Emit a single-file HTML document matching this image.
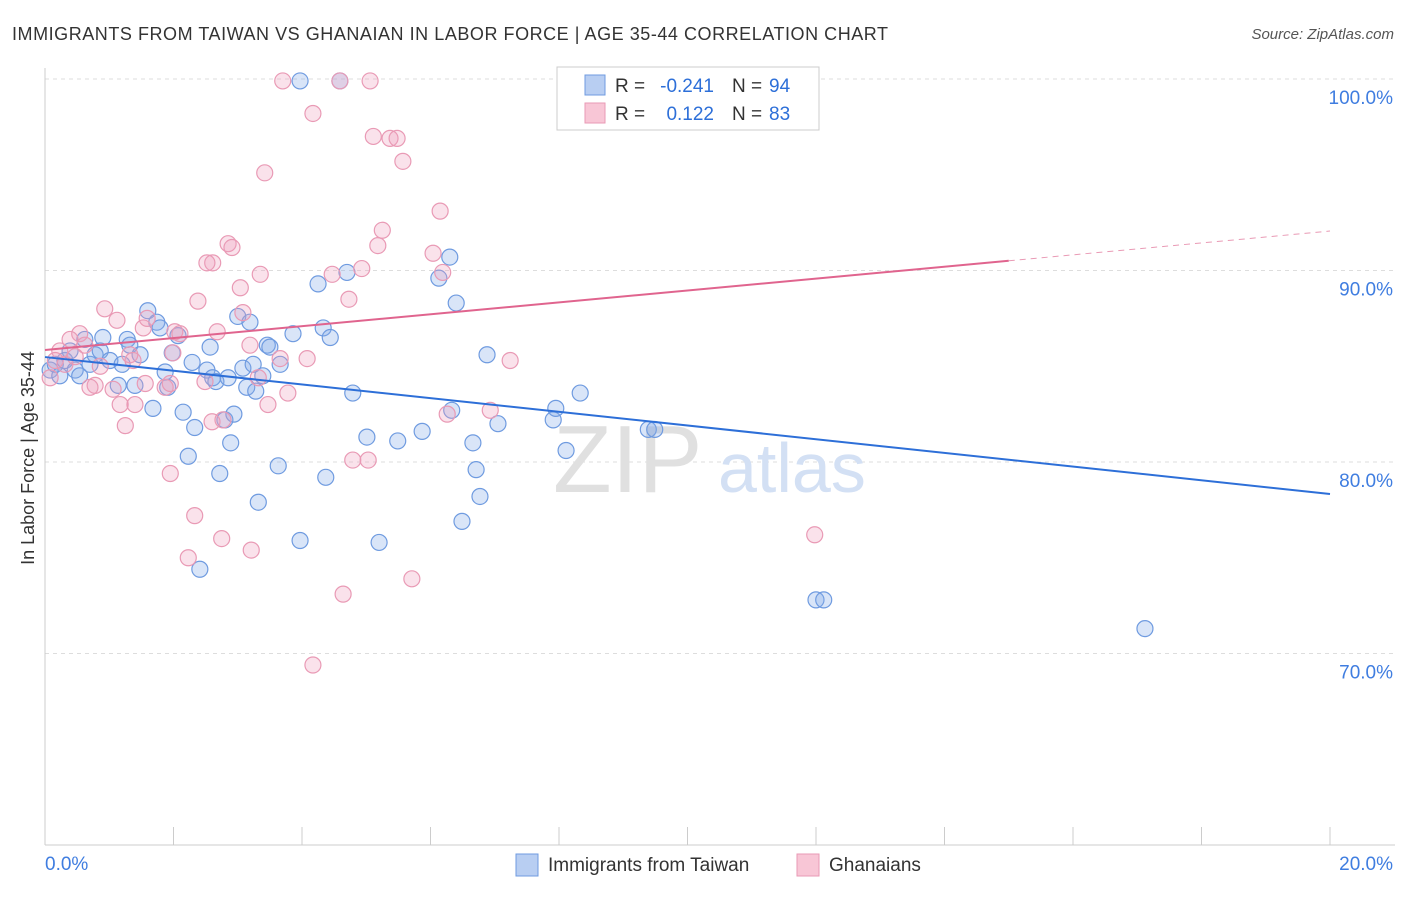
<!DOCTYPE html>
<html><head><meta charset="utf-8"><style>
body{margin:0;background:#fff;width:1406px;height:892px;overflow:hidden;font-family:"Liberation Sans",sans-serif}
svg text{font-family:"Liberation Sans",sans-serif}
</style></head><body>
<svg id="chart" width="1406" height="892" xmlns="http://www.w3.org/2000/svg">
<text x="12" y="40" font-size="18" fill="#333" textLength="876" lengthAdjust="spacing">IMMIGRANTS FROM TAIWAN VS GHANAIAN IN LABOR FORCE | AGE 35-44 CORRELATION CHART</text>
<text x="1394" y="39" font-size="15" fill="#555" text-anchor="end" font-style="italic">Source: ZipAtlas.com</text>
<text x="34" y="458" font-size="18" fill="#333" text-anchor="middle" transform="rotate(-90 34 458)">In Labor Force | Age 35-44</text>
<g id="grid"></g>
<g id="axes"></g>
<text x="553" y="492" font-size="96" fill="#e0e0e0" font-family="Liberation Serif">ZIP</text>
<text x="718" y="492" font-size="70" fill="#d3e0f4">atlas</text>
<g id="marks"></g>
<g>
<rect x="557" y="67" width="262" height="63" fill="#fff" stroke="#ccc"/>
<rect x="585" y="75" width="20" height="20" fill="#b8cef2" stroke="#6f9be0"/>
<rect x="585" y="103" width="20" height="20" fill="#f8c6d6" stroke="#e99ab5"/>
<text x="615" y="92" font-size="19" fill="#333">R =</text>
<text x="714" y="92" font-size="19" fill="#2d6fd8" text-anchor="end">-0.241</text>
<text x="732" y="92" font-size="19" fill="#333">N =</text>
<text x="769" y="92" font-size="19" fill="#2d6fd8">94</text>
<text x="615" y="120" font-size="19" fill="#333">R =</text>
<text x="714" y="120" font-size="19" fill="#2d6fd8" text-anchor="end">0.122</text>
<text x="732" y="120" font-size="19" fill="#333">N =</text>
<text x="769" y="120" font-size="19" fill="#2d6fd8">83</text>
</g>
<g>
<rect x="516" y="854" width="22" height="22" fill="#b8cef2" stroke="#6f9be0"/>
<text x="548" y="871" font-size="19" fill="#333">Immigrants from Taiwan</text>
<rect x="797" y="854" width="22" height="22" fill="#f8c6d6" stroke="#e99ab5"/>
<text x="829" y="871" font-size="19" fill="#333">Ghanaians</text>
</g>
</svg>
<script>
const blueX=[3.97,4.59,11.75,0.08,0.16,0.23,0.31,0.39,0.47,0.54,0.62,0.70,0.78,0.86,0.90,1.01,1.14,1.20,1.28,1.32,1.40,1.48,1.60,1.68,1.74,1.79,1.87,1.91,1.98,2.07,2.15,2.23,2.29,2.33,2.41,2.52,2.57,2.61,2.66,2.72,2.80,2.85,2.89,2.94,3.00,3.08,3.14,3.19,3.24,3.28,3.32,3.39,3.46,3.50,3.63,3.66,3.86,3.97,4.25,4.33,4.37,4.44,4.70,4.79,5.01,5.20,5.49,5.87,6.13,6.30,6.33,6.40,6.49,6.66,6.71,6.77,6.88,7.05,7.91,7.95,8.11,8.33,9.39,9.49,12.00,12.12,17.12];
const blueY=[99.9,99.9,99.9,84.8,85.1,84.5,85.3,85.8,84.8,84.5,86.4,85.1,85.6,85.8,86.5,85.3,84.0,85.1,86.4,86.1,84.0,85.6,87.9,82.8,87.3,87.0,84.7,83.9,85.7,86.6,82.6,80.3,85.2,81.8,74.4,84.8,86.0,84.4,84.2,79.4,82.2,84.4,81.0,82.5,87.6,84.9,83.9,87.3,85.1,83.7,77.9,84.5,86.1,86.0,79.8,85.1,86.7,75.9,89.3,87.0,79.2,86.5,89.9,83.6,81.3,75.8,81.1,81.6,89.6,90.7,82.7,88.3,76.9,81.0,79.6,78.2,85.6,82.0,82.2,82.8,80.6,83.6,81.7,81.7,72.8,72.8,71.3];
const pinkX=[3.70,4.17,4.59,5.06,5.11,5.37,5.48,5.57,3.42,6.15,5.25,5.18,6.04,2.85,2.91,2.61,2.52,3.35,4.93,4.47,6.19,4.73,2.38,3.04,3.08,0.93,1.12,1.53,1.59,2.02,2.10,2.68,0.54,0.62,0.39,0.23,0.16,0.31,0.47,1.32,1.37,1.99,3.19,3.66,4.08,7.24,0.78,1.06,1.17,1.40,1.25,1.56,1.87,1.95,2.49,2.60,2.77,3.32,3.47,3.78,6.26,6.93,4.79,5.03,1.95,2.33,2.75,2.23,3.21,4.64,5.71,4.17,11.98,0.08,0.70,0.86];
const pinkY=[99.9,98.2,99.9,99.9,97.0,96.9,96.9,95.7,95.1,93.1,92.1,91.3,90.9,91.4,91.2,90.4,90.4,89.8,90.1,89.8,89.9,88.5,88.4,89.1,87.8,88.0,87.4,87.0,87.5,86.8,86.7,86.8,86.7,86.1,86.4,85.8,85.3,85.1,85.5,85.6,85.3,85.7,86.1,85.4,85.4,85.3,84.0,83.8,83.0,83.0,81.9,84.1,83.9,84.1,84.2,82.1,82.2,84.4,83.0,83.6,82.5,82.7,80.1,80.1,79.4,77.2,76.0,75.0,75.4,73.1,73.9,69.4,76.2,84.4,83.9,85.0];
const blueLine=[85.48,78.33];
const pinkLine=[85.85,92.06];
const yTicks=[100,90,80,70];
const xTickLabels=["0.0%","20.0%"];
const NS="http://www.w3.org/2000/svg";
const sx=v=>45+v*64.25, sy=v=>79+(100-v)*19.15;
function mk(t,a,p){const e=document.createElementNS(NS,t);for(const k in a)e.setAttribute(k,a[k]);p.appendChild(e);return e;}
const grid=document.getElementById('grid'),axes=document.getElementById('axes'),marks=document.getElementById('marks');
yTicks.forEach(t=>{
 const l=mk('line',{x1:45,x2:1395,y1:sy(t),y2:sy(t),stroke:'#ddd','stroke-dasharray':'4 4'},grid);
 
 
 const tx=mk('text',{x:1393,y:sy(t)+25,'font-size':19,fill:'#3f7de0','text-anchor':'end'},axes);tx.textContent=t.toFixed(1)+'%';
 
 
});
mk('line',{x1:45,x2:45,y1:68,y2:845,stroke:'#ccc'},axes);
mk('line',{x1:45,x2:1395,y1:845,y2:845,stroke:'#ccc'},axes);
for(let i=0;i<=10;i++){mk('line',{x1:sx(i*2),x2:sx(i*2),y1:827,y2:845,stroke:'#ccc'},axes);}
const t0=mk('text',{x:45,y:870,'font-size':19,fill:'#3f7de0'},axes);t0.textContent=xTickLabels[0];


const t1=mk('text',{x:1393,y:870,'font-size':19,fill:'#3f7de0','text-anchor':'end'},axes);t1.textContent=xTickLabels[1];


function pts(X,Y,fill,stroke,name){X.forEach((x,i)=>{const c=mk('circle',{cx:sx(x),cy:sy(Y[i]),r:8,fill:fill,stroke:stroke,'stroke-width':1.2},marks);
 
 });}
pts(blueX,blueY,'rgba(130,168,232,0.3)','#6f9be0','taiwan-point');
pts(pinkX,pinkY,'rgba(240,160,190,0.3)','#e99ab5','ghanaian-point');
const bl=mk('line',{x1:sx(0),y1:sy(blueLine[0]),x2:sx(20),y2:sy(blueLine[1]),stroke:'#2d6fd8','stroke-width':2},marks);


const pm=pinkLine[0]+(pinkLine[1]-pinkLine[0])*0.75;
const pl=mk('line',{x1:sx(0),y1:sy(pinkLine[0]),x2:sx(15),y2:sy(pm),stroke:'#e0648e','stroke-width':2},marks);


const pd=mk('line',{x1:sx(15),y1:sy(pm),x2:sx(20),y2:sy(pinkLine[1]),stroke:'#e99ab5','stroke-width':1,'stroke-dasharray':'6 5'},marks);


</script>
</body></html>
